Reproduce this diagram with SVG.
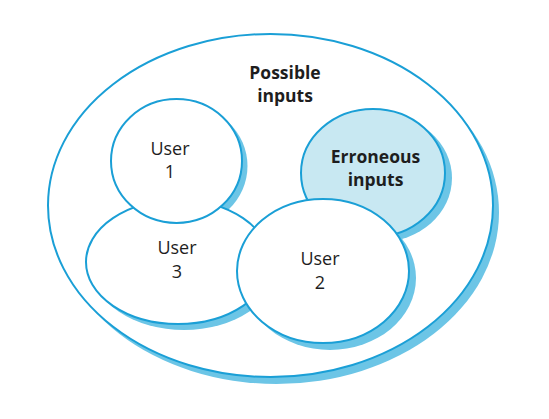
<svg xmlns="http://www.w3.org/2000/svg" width="549" height="419" viewBox="0 0 549 419">
<style>
.sh{fill:#6cc5e6;stroke:none}
.sp{fill:#ffffff;stroke:#1a9fd6;stroke-width:2}
.err{fill:#c8e8f2}
text{font-family:"Open Sans","Noto Sans","Liberation Sans",sans-serif;fill:#1e1e1e;text-anchor:middle}
.b{font-weight:bold;font-size:17.5px}
.r{font-size:18px}
</style>
<rect width="549" height="419" fill="#ffffff"/>
<g id="possible-inputs">
<ellipse class="sh" cx="276.5" cy="212.5" rx="222.5" ry="171.5"/>
<ellipse class="sp" cx="270.5" cy="205.5" rx="222.5" ry="171.5"/>
<text class="b" x="285" y="79">Possible</text>
<text class="b" x="285" y="102">inputs</text>
</g>
<g id="shadows">
<ellipse class="sh" cx="184" cy="268" rx="92" ry="62"/>
<ellipse class="sh" cx="380" cy="178" rx="72" ry="64"/>
<ellipse class="sh" cx="182" cy="166" rx="65.5" ry="62"/>
<ellipse class="sh" cx="330" cy="278" rx="86" ry="72"/>
</g>
<g id="user3">
<ellipse class="sp" cx="178" cy="262" rx="92" ry="62"/>
<text class="r" x="177" y="254">User</text>
<text class="r" x="177" y="278">3</text>
</g>
<g id="erroneous-inputs">
<ellipse class="sp err" cx="373" cy="173" rx="72" ry="64"/>
<text class="b" x="375.5" y="163">Erroneous</text>
<text class="b" x="375.5" y="186">inputs</text>
</g>
<g id="user1">
<ellipse class="sp" cx="176.5" cy="161" rx="65.5" ry="62"/>
<text class="r" x="170" y="155">User</text>
<text class="r" x="170" y="178">1</text>
</g>
<g id="user2">
<ellipse class="sp" cx="323" cy="271" rx="86" ry="72"/>
<text class="r" x="320" y="265">User</text>
<text class="r" x="320" y="289">2</text>
</g>
<g id="connectors"></g>
</svg>
